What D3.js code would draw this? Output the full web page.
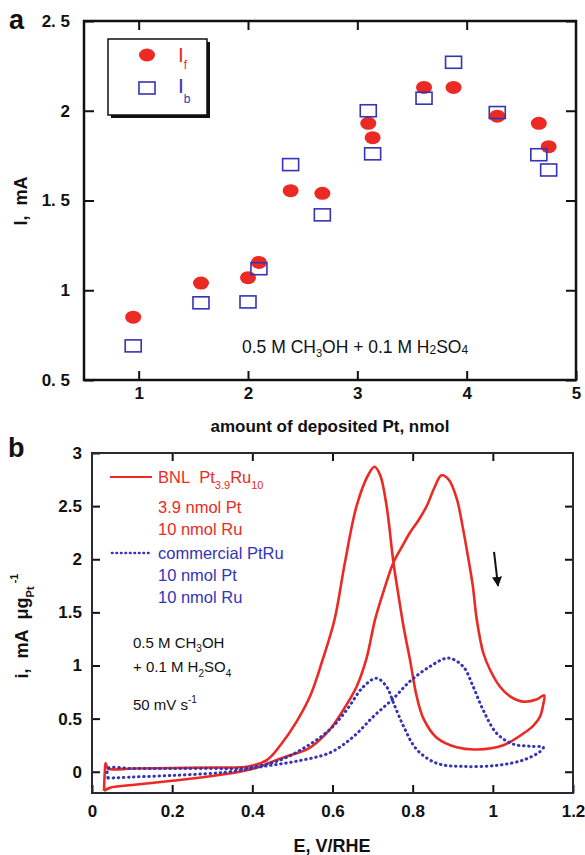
<!DOCTYPE html>
<html>
<head>
<meta charset="utf-8">
<script src="https://cdn.jsdelivr.net/npm/d3@7"></script>
<style>
body { margin: 0; background: #fff; }
svg text { font-family: "Liberation Sans", Arial, Helvetica, sans-serif; }
</style>
</head>
<body>
<div id="chart"></div>
<script>
// ---- panel a: peak currents vs amount of Pt ----
const ptAmount = [0.95, 1.57, 2.0, 2.1, 2.39, 2.68, 3.1, 3.14, 3.61, 3.88, 4.28, 4.66, 4.75];
const currentF = [0.85, 1.04, 1.07, 1.155, 1.555, 1.54, 1.93, 1.85, 2.13, 2.13, 1.97, 1.93, 1.80];
const currentB = [0.69, 0.93, 0.935, 1.12, 1.70, 1.42, 2.0, 1.76, 2.07, 2.27, 1.99, 1.755, 1.67];
const aTicksX = [1, 2, 3, 4, 5];
const aTicksY = [0.5, 1, 1.5, 2, 2.5];
const aTickLabelsY = ["0. 5", "1", "1. 5", "2", "2. 5"];

// ---- panel b: cyclic voltammograms ----
const bnlE = [0.03, 0.045, 0.1, 0.2, 0.3, 0.38, 0.42, 0.45, 0.49, 0.536, 0.565, 0.594, 0.625, 0.66, 0.685, 0.706,
  0.73, 0.752, 0.775, 0.793, 0.815, 0.835, 0.855, 0.872, 0.89, 0.91, 0.925, 0.935, 0.95, 0.96, 0.976, 0.993,
  1.018, 1.043, 1.076, 1.109, 1.128,
  1.125, 1.118, 1.1, 1.076, 1.026, 0.96, 0.91, 0.86, 0.827, 0.81, 0.793, 0.778, 0.765, 0.752, 0.735, 0.719,
  0.705, 0.69, 0.66, 0.631, 0.605, 0.575, 0.545, 0.51, 0.47, 0.436, 0.39, 0.3, 0.2, 0.1, 0.04, 0.034, 0.032, 0.03];
const bnlI = [-0.18, -0.15, -0.125, -0.085, -0.04, 0.01, 0.05, 0.095, 0.15, 0.21, 0.29, 0.40, 0.57, 0.80, 1.07, 1.43,
  1.73, 1.97, 2.13, 2.25, 2.37, 2.50, 2.68, 2.79, 2.75, 2.57, 2.30, 2.09, 1.75, 1.43, 1.12, 0.96,
  0.80, 0.71, 0.66, 0.68, 0.72,
  0.62, 0.52, 0.43, 0.36, 0.25, 0.21, 0.23, 0.32, 0.50, 0.71, 1.06, 1.35, 1.65, 1.97, 2.50, 2.79,
  2.87, 2.80, 2.50, 1.97, 1.43, 1.05, 0.72, 0.47, 0.25, 0.11, 0.05, 0.04, 0.035, 0.03, 0.03, 0.08, 0.0, -0.18];
const comE = [0.04, 0.1, 0.2, 0.3, 0.344, 0.427, 0.511, 0.594, 0.652, 0.702, 0.752, 0.793, 0.843, 0.889, 0.926,
  0.951, 0.976, 1.01, 1.051, 1.093, 1.126,
  1.118, 1.076, 1.01, 0.926, 0.86, 0.81, 0.777, 0.752, 0.735, 0.71, 0.677, 0.635, 0.594, 0.536, 0.469, 0.386,
  0.3, 0.2, 0.1, 0.04, 0.04];
const comI = [-0.06, -0.05, -0.035, -0.015, 0.0, 0.05, 0.10, 0.18, 0.33, 0.52, 0.69, 0.85, 0.99, 1.07, 0.99,
  0.80, 0.58, 0.36, 0.26, 0.24, 0.23,
  0.19, 0.11, 0.06, 0.05, 0.08, 0.21, 0.43, 0.65, 0.80, 0.88, 0.80, 0.58, 0.40, 0.24, 0.11, 0.035,
  0.03, 0.03, 0.03, 0.03, -0.06];
const bTicksX = [0, 0.2, 0.4, 0.6, 0.8, 1, 1.2];
const bTicksY = [0, 0.5, 1, 1.5, 2, 2.5, 3];

const red = "#ec2a24";
const blue = "#3434b4";

const svg = d3.select("#chart").append("svg")
  .attr("width", 585)
  .attr("height", 855);

function styleAxis(g, size) {
  g.select(".domain").remove();
  g.selectAll(".tick line").attr("stroke", "#111").attr("stroke-width", 2);
  g.selectAll(".tick text")
    .attr("fill", "#111")
    .style("font-size", size + "px")
    .style("font-weight", "bold");
}

// ===== panel a =====
const xa = d3.scaleLinear().domain([0.5, 5]).range([84, 576]);
const ya = d3.scaleLinear().domain([0.5, 2.5]).range([380, 21]);

svg.append("g").attr("transform", "translate(84,0)")
  .call(d3.axisLeft(ya).tickValues(aTicksY).tickFormat((d, i) => aTickLabelsY[i]).tickSize(-10).tickPadding(14))
  .call(g => styleAxis(g, 17));
svg.append("g").attr("transform", "translate(576,0)")
  .call(d3.axisRight(ya).tickValues(aTicksY).tickFormat("").tickSize(-10))
  .call(g => styleAxis(g, 17));
svg.append("g").attr("transform", "translate(0,21)")
  .call(d3.axisTop(xa).tickValues([1, 2, 3, 4]).tickFormat("").tickSize(-9))
  .call(g => styleAxis(g, 17));
svg.append("g").attr("transform", "translate(0,380)")
  .call(d3.axisBottom(xa).tickValues(aTicksX).tickFormat(d3.format("d")).tickSize(-9).tickPadding(7))
  .call(g => styleAxis(g, 17));

svg.append("rect")
  .attr("x", xa(0.5)).attr("y", ya(2.5))
  .attr("width", xa(5) - xa(0.5)).attr("height", ya(0.5) - ya(2.5))
  .attr("fill", "none").attr("stroke", "#111").attr("stroke-width", 2.5);

const aData = ptAmount.map((p, i) => ({p: p, f: currentF[i], b: currentB[i]}));

svg.append("g").selectAll("ellipse")
  .data(aData)
  .enter()
  .append("ellipse")
  .attr("cx", d => xa(d.p))
  .attr("cy", d => ya(d.f))
  .attr("rx", 8).attr("ry", 6.5)
  .attr("fill", red);

svg.append("g").selectAll("rect")
  .data(aData)
  .enter()
  .append("rect")
  .attr("x", d => xa(d.p) - 8)
  .attr("y", d => ya(d.b) - 6)
  .attr("width", 16).attr("height", 12)
  .attr("fill", "none")
  .attr("stroke", blue)
  .attr("stroke-width", 1.6);

// legend box with shadow
svg.append("rect").attr("x", 111).attr("y", 42).attr("width", 99).attr("height", 76).attr("fill", "#111");
svg.append("rect").attr("x", 108).attr("y", 39).attr("width", 99).attr("height", 76)
  .attr("fill", "#fff").attr("stroke", "#111").attr("stroke-width", 1.5);
svg.append("ellipse").attr("cx", 147).attr("cy", 55).attr("rx", 8).attr("ry", 6.5).attr("fill", red);
svg.append("rect").attr("x", 139).attr("y", 82).attr("width", 16).attr("height", 12)
  .attr("fill", "none").attr("stroke", blue).attr("stroke-width", 1.6);
const lf = svg.append("text").attr("x", 178).attr("y", 62).attr("fill", red).style("font-size", "21px");
lf.append("tspan").text("I");
lf.append("tspan").attr("dy", 7).style("font-size", "12px").text("f");
const lb = svg.append("text").attr("x", 178).attr("y", 93).attr("fill", blue).style("font-size", "21px");
lb.append("tspan").text("I");
lb.append("tspan").attr("dy", 10).style("font-size", "12px").text("b");

// solution note
const noteA = svg.append("text").attr("x", 242).attr("y", 353).attr("fill", "#111").style("font-size", "17.5px");
noteA.append("tspan").text("0.5 M CH");
noteA.append("tspan").attr("dy", 4).style("font-size", "11px").text("3");
noteA.append("tspan").attr("dy", -4).text("OH + 0.1 M H");
noteA.append("tspan").attr("dy", 1).style("font-size", "12px").text("2");
noteA.append("tspan").attr("dy", -1).text("SO");
noteA.append("tspan").attr("dy", 1).style("font-size", "12px").text("4");

svg.append("text").attr("x", 330).attr("y", 432).attr("text-anchor", "middle")
  .style("font-size", "17px").style("font-weight", "bold").attr("fill", "#111")
  .text("amount of deposited Pt, nmol");
svg.append("text").attr("transform", "translate(27,201) rotate(-90)").attr("text-anchor", "middle")
  .style("font-size", "18px").style("font-weight", "bold").attr("fill", "#111")
  .text("I,\u00a0 mA");
svg.append("text").attr("x", 9).attr("y", 29)
  .style("font-size", "27px").style("font-weight", "bold").attr("fill", "#111").text("a");

// ===== panel b =====
const xb = d3.scaleLinear().domain([0, 1.2]).range([92, 573]);
const yb = d3.scaleLinear().domain([-0.2, 3]).range([793, 453]);

svg.append("g").attr("transform", "translate(92,0)")
  .call(d3.axisLeft(yb).tickValues(bTicksY).tickFormat(d3.format("")).tickSize(-8).tickPadding(10))
  .call(g => styleAxis(g, 17));
svg.append("g").attr("transform", "translate(573,0)")
  .call(d3.axisRight(yb).tickValues(bTicksY.slice(0, 6)).tickFormat("").tickSize(-8))
  .call(g => styleAxis(g, 17));
svg.append("g").attr("transform", "translate(0,453)")
  .call(d3.axisTop(xb).tickValues(bTicksX.slice(1, 6)).tickFormat("").tickSize(-8))
  .call(g => styleAxis(g, 17));
svg.append("g").attr("transform", "translate(0,793)")
  .call(d3.axisBottom(xb).tickValues(bTicksX).tickFormat(d3.format("")).tickSize(-8).tickPadding(12))
  .call(g => styleAxis(g, 17));

svg.append("rect")
  .attr("x", xb(0)).attr("y", yb(3))
  .attr("width", xb(1.2) - xb(0)).attr("height", yb(-0.2) - yb(3))
  .attr("fill", "none").attr("stroke", "#2a2a36").attr("stroke-width", 2);

const cvLine = d3.line()
  .x(d => xb(d[0]))
  .y(d => yb(d[1]))
  .curve(d3.curveCatmullRom.alpha(0.5));

svg.append("path")
  .datum(d3.zip(bnlE, bnlI))
  .attr("d", cvLine)
  .attr("fill", "none")
  .attr("stroke", red)
  .attr("stroke-width", 2.6);

svg.append("path")
  .datum(d3.zip(comE, comI))
  .attr("d", cvLine)
  .attr("fill", "none")
  .attr("stroke", blue)
  .attr("stroke-width", 3)
  .attr("stroke-linecap", "round")
  .attr("stroke-dasharray", "0.5,4.6");

// legend
svg.append("line").attr("x1", 110).attr("x2", 152).attr("y1", 477).attr("y2", 477)
  .attr("stroke", red).attr("stroke-width", 2);
svg.append("line").attr("x1", 112).attr("x2", 152).attr("y1", 553).attr("y2", 553)
  .attr("stroke", blue).attr("stroke-width", 2.6).attr("stroke-linecap", "round").attr("stroke-dasharray", "0.5,4");

const leg1 = svg.append("text").attr("x", 158).attr("y", 483).attr("fill", red).style("font-size", "16.5px");
leg1.append("tspan").text("BNL\u00a0\u00a0Pt");
leg1.append("tspan").attr("dy", 6).style("font-size", "11px").text("3.9");
leg1.append("tspan").attr("dy", -6).text("Ru");
leg1.append("tspan").attr("dy", 6).style("font-size", "11px").text("10");

const legLines = [
  {t: "3.9 nmol Pt", y: 513, c: red},
  {t: "10 nmol Ru", y: 535, c: red},
  {t: "commercial PtRu", y: 559, c: blue},
  {t: "10 nmol Pt", y: 581, c: blue},
  {t: "10 nmol Ru", y: 603, c: blue}
];
svg.append("g").selectAll("text")
  .data(legLines)
  .enter()
  .append("text")
  .attr("x", 158)
  .attr("y", d => d.y)
  .attr("fill", d => d.c)
  .style("font-size", "16.5px")
  .text(d => d.t);

// conditions
const c1 = svg.append("text").attr("x", 133).attr("y", 648).attr("fill", "#111").style("font-size", "15px");
c1.append("tspan").text("0.5 M CH");
c1.append("tspan").attr("dy", 4).style("font-size", "10px").text("3");
c1.append("tspan").attr("dy", -4).text("OH");
const c2 = svg.append("text").attr("x", 133).attr("y", 672).attr("fill", "#111").style("font-size", "15px");
c2.append("tspan").text("+ 0.1 M H");
c2.append("tspan").attr("dy", 5).style("font-size", "10px").text("2");
c2.append("tspan").attr("dy", -5).text("SO");
c2.append("tspan").attr("dy", 5).style("font-size", "10px").text("4");
const c3 = svg.append("text").attr("x", 133).attr("y", 710).attr("fill", "#111").style("font-size", "15px");
c3.append("tspan").text("50 mV s");
c3.append("tspan").attr("dy", -7).style("font-size", "10px").text("-1");

// scan direction arrow
svg.append("defs").append("marker")
  .attr("id", "head")
  .attr("viewBox", "0 0 10 10")
  .attr("refX", 9).attr("refY", 5)
  .attr("markerWidth", 5).attr("markerHeight", 5)
  .attr("orient", "auto")
  .append("path").attr("d", "M0,0 L10,5 L0,10 z").attr("fill", "#111");
svg.append("line")
  .attr("x1", xb(1.003)).attr("y1", yb(2.07))
  .attr("x2", xb(1.013)).attr("y2", yb(1.75))
  .attr("stroke", "#111").attr("stroke-width", 2)
  .attr("marker-end", "url(#head)");

// axis titles
svg.append("text").attr("x", 332).attr("y", 852).attr("text-anchor", "middle")
  .style("font-size", "18px").style("font-weight", "bold").attr("fill", "#111")
  .text("E, V/RHE");
const yt = svg.append("text").attr("transform", "translate(28,626) rotate(-90)").attr("text-anchor", "middle")
  .style("font-size", "18px").style("font-weight", "bold").attr("fill", "#111");
yt.append("tspan").text("i,\u00a0 mA\u00a0 μg");
yt.append("tspan").attr("dy", 6).style("font-size", "11px").text("Pt");
yt.append("tspan").attr("dy", -16).style("font-size", "11px").text("\u00a0-1");
svg.append("text").attr("x", 8).attr("y", 457)
  .style("font-size", "27px").style("font-weight", "bold").attr("fill", "#111").text("b");
</script>
</body>
</html>
